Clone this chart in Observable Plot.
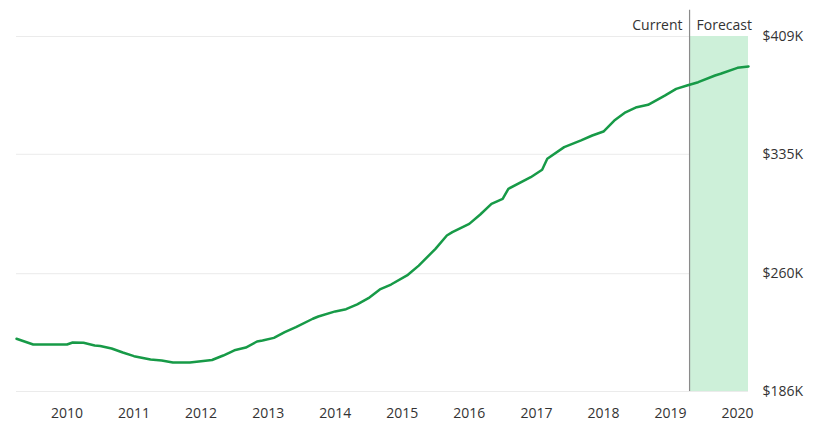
<!DOCTYPE html>
<html>
<head>
<meta charset="utf-8">
<script src="https://cdn.jsdelivr.net/npm/d3@7"></script>
<script src="https://cdn.jsdelivr.net/npm/@observablehq/plot@0.6"></script>
<style>
  html, body { margin: 0; padding: 0; background: #fff; }
  #chart svg { display: block; font-family: "Open Sans", sans-serif; }
</style>
</head>
<body>
<div id="chart"></div>
<script>
const dates = ["2009-04","2009-07","2010-01","2010-02","2010-04","2010-06","2010-07","2010-09","2010-11",
  "2011-01","2011-04","2011-06","2011-08","2011-11","2012-01","2012-03","2012-05","2012-07","2012-09",
  "2012-11","2012-12","2013-02","2013-04","2013-06","2013-09","2013-10","2014-01","2014-03","2014-05",
  "2014-07","2014-09","2014-11","2015-02","2015-04","2015-07","2015-09","2015-10","2016-01","2016-03",
  "2016-05","2016-07","2016-08","2016-12","2017-02","2017-03","2017-06","2017-09","2017-11","2018-01",
  "2018-03","2018-05","2018-07","2018-09","2018-12","2019-02","2019-04","2019-06","2019-09","2019-10",
  "2020-01","2020-03"];
const values = [219.1,215.5,215.5,216.8,216.6,214.9,214.6,213.0,210.5,
  208.2,206.1,205.5,204.2,204.2,205.0,205.8,208.6,211.9,213.6,
  217.4,218.0,219.7,223.3,226.4,231.7,233.1,236.3,237.7,240.7,
  244.6,250.1,253.2,259.3,265.1,275.6,284.0,286.1,291.3,297.2,
  303.9,307.0,313.3,320.6,325.3,332.2,339.5,343.7,346.8,349.3,
  356.2,361.4,364.6,366.1,371.9,376.1,378.2,380.3,384.5,385.6,
  389.3,390.2];
const yTicks = [186, 260, 335, 409];
const yTickLabels = ["$186K", "$260K", "$335K", "$409K"];
const xTickYears = [2010, 2011, 2012, 2013, 2014, 2015, 2016, 2017, 2018, 2019, 2020];
const currentDate = "2019-04-15";
const domainStart = "2009-04-01";
const domainEnd = "2020-03-01";
const currentLabel = "Current";
const forecastLabel = "Forecast";

const data = dates.map((d, i) => ({date: new Date(d + "-01"), value: values[i]}));
const cur = new Date(currentDate);
const x0 = new Date(domainStart), x1 = new Date(domainEnd);
const xTicks = xTickYears.map(y => new Date(y + "-01-01"));

const chart = Plot.plot({
  width: 815,
  height: 436,
  marginTop: 36,
  marginBottom: 45,
  marginLeft: 16,
  marginRight: 67,
  style: {fontFamily: "Open Sans, sans-serif", fontSize: "14px", color: "#333"},
  x: {type: "utc", domain: [x0, x1]},
  y: {domain: [186, 409]},
  marks: [
    Plot.ruleY(yTicks, {stroke: "#ebebeb", strokeWidth: 1}),
    Plot.rectX([{a: cur, b: x1}], {x1: "a", x2: "b", y1: 186, y2: 409, fill: "#cdf0d9"}),
    Plot.ruleX([cur], {y1: 186, y2: 425.5, stroke: "#8a8a8a", strokeWidth: 1.2}),
    Plot.line(data, {x: "date", y: "value", stroke: "#179a47", strokeWidth: 2.5}),
    Plot.axisY(yTicks, {anchor: "right", tickSize: 0, tickPadding: 14, textAnchor: "start",
      tickFormat: d => yTickLabels[yTicks.indexOf(d)], fontSize: 14, fill: "#333", label: null}),
    Plot.axisX(xTicks, {anchor: "bottom", tickSize: 0, tickPadding: 17, tickFormat: d => String(d.getUTCFullYear()),
      fontSize: 14, fill: "#333", label: null}),
    Plot.text([currentLabel], {x: cur, frameAnchor: "top", dy: -16, dx: -7, textAnchor: "end", fontSize: 14, fill: "#333"}),
    Plot.text([forecastLabel], {x: cur, frameAnchor: "top", dy: -16, dx: 7, textAnchor: "start", fontSize: 14, fill: "#333"})
  ]
});
document.getElementById("chart").appendChild(chart);
</script>
</body>
</html>
